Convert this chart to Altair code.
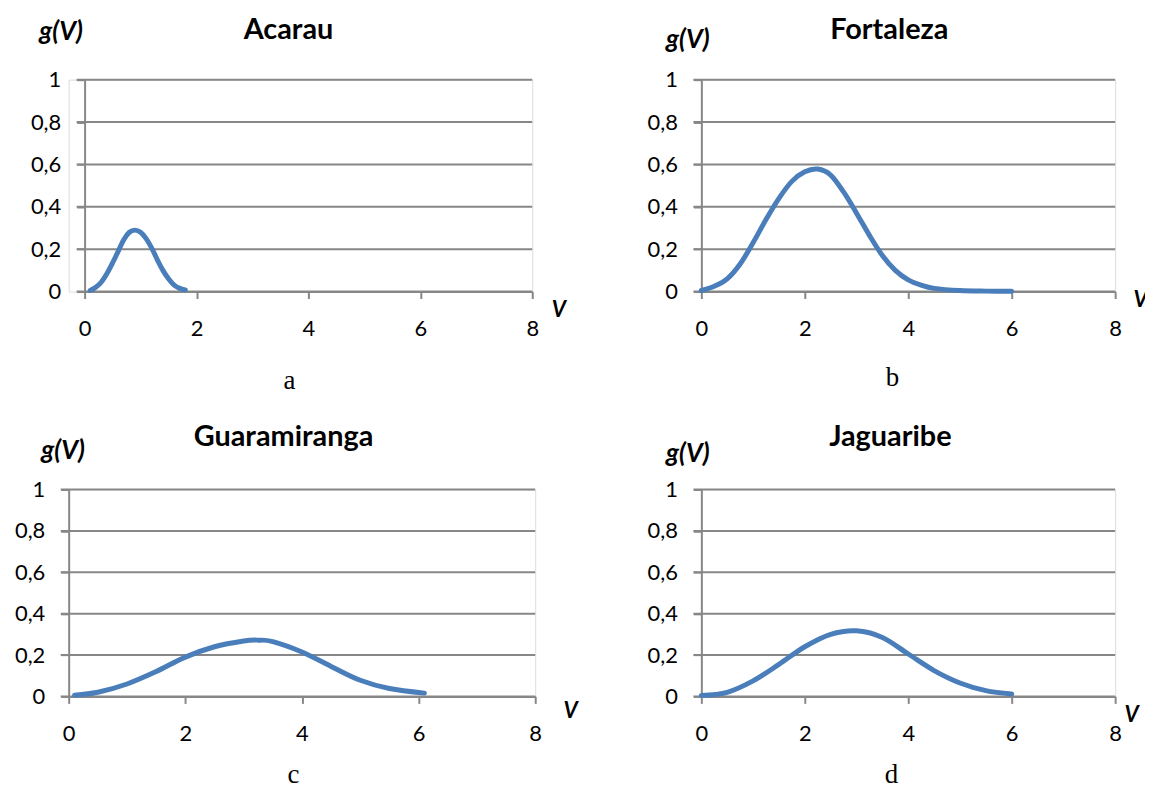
import altair as alt
import pandas as pd

# ---- data ----
acarau_v = [0.1, 0.2, 0.3, 0.4, 0.5, 0.6, 0.7, 0.8, 0.9, 1.0, 1.1, 1.2, 1.3, 1.4, 1.5, 1.6, 1.7, 1.8]
acarau_g = [0.005, 0.02, 0.045, 0.085, 0.135, 0.19, 0.245, 0.28, 0.29, 0.28, 0.25, 0.205, 0.15, 0.1, 0.06, 0.03, 0.015, 0.008]

fortaleza_v = [0, 0.25, 0.5, 0.75, 1.0, 1.25, 1.5, 1.75, 2.0, 2.25, 2.5, 2.75, 3.0, 3.25, 3.5, 3.75, 4.0, 4.25, 4.5, 5.0, 5.5, 6.0]
fortaleza_g = [0.005, 0.025, 0.06, 0.13, 0.23, 0.34, 0.44, 0.52, 0.565, 0.578, 0.55, 0.47, 0.37, 0.265, 0.17, 0.1, 0.055, 0.03, 0.015, 0.005, 0.002, 0.001]

guara_v = [0.1, 0.5, 1.0, 1.5, 2.0, 2.5, 3.0, 3.25, 3.5, 4.0, 4.5, 5.0, 5.5, 6.1]
guara_g = [0.006, 0.02, 0.06, 0.12, 0.19, 0.24, 0.268, 0.272, 0.265, 0.215, 0.145, 0.078, 0.038, 0.016]

jagua_v = [0, 0.5, 1.0, 1.5, 2.0, 2.5, 3.0, 3.5, 4.0, 4.5, 5.0, 5.5, 6.0]
jagua_g = [0.005, 0.02, 0.075, 0.155, 0.24, 0.3, 0.317, 0.285, 0.205, 0.125, 0.065, 0.028, 0.012]

x_ticks = [0, 2, 4, 6, 8]
y_ticks = [0, 0.2, 0.4, 0.6, 0.8, 1]

GRID = "#878787"
BLUE = "#4a7ebb"
FONT = "Lato"


def panel(v, g, name, letter, w, h, gx, gy, vx, vy, tx, ty, lx, ly, shift=0):
    df = pd.DataFrame({"V": v, "g": g})
    xscale = alt.Scale(domain=[0, 8], nice=False, zero=False, range=[shift, w])
    yscale = alt.Scale(domain=[0, 1], nice=False)
    x = alt.X(
        "V:Q", scale=xscale,
        axis=alt.Axis(
            values=x_ticks, grid=False, title="V", titleX=vx, titleY=vy,
            titleAlign="left", titleBaseline="alphabetic", titleAngle=0,
            titleFont=FONT, titleFontSize=22, titleFontStyle="italic",
            titleFontWeight="bold", titleColor="black",
            domainColor=GRID, domainWidth=2, tickColor=GRID, tickWidth=2,
            tickSize=7, labelFont=FONT, labelFontSize=22, labelColor="black",
            labelPadding=20, labelFlush=False, labelOverlap=False,
        ),
    )
    y = alt.Y(
        "g:Q", scale=yscale,
        axis=alt.Axis(
            values=y_ticks,
            labelExpr="replace(format(datum.value, '.1~f'), '.', ',')",
            title="g(V)", titleX=gx, titleY=gy, titleAngle=0,
            titleAlign="left", titleBaseline="alphabetic",
            titleFont=FONT, titleFontSize=26, titleFontStyle="italic",
            titleFontWeight="bold", titleColor="black",
            grid=False, offset=-shift,
            domainColor=GRID, domainWidth=2, tickColor=GRID, tickWidth=2,
            tickSize=8, labelFont=FONT, labelFontSize=22, labelColor="black",
            labelPadding=16, labelFlush=False, labelOverlap=False,
        ),
    )
    grid = alt.Chart(pd.DataFrame({"g": y_ticks})).mark_rule(
        color=GRID, strokeWidth=2
    ).encode(y=alt.Y("g:Q", scale=yscale), x=alt.value(shift - 8), x2=alt.value(w))
    line = alt.Chart(df).mark_line(
        color=BLUE, strokeWidth=5, interpolate="cardinal",
        strokeCap="round", strokeJoin="round",
    ).encode(x=x, y=y)
    head = alt.Chart(pd.DataFrame({"t": [name]})).mark_text(
        font=FONT, fontSize=29, fontWeight="bold", align="center",
        baseline="alphabetic", color="black",
    ).encode(text="t:N", x=alt.value(tx), y=alt.value(ty))
    txt = alt.Chart(pd.DataFrame({"t": [letter]})).mark_text(
        font="Liberation Serif", fontSize=27, align="center",
        baseline="alphabetic", color="black",
    ).encode(text="t:N", x=alt.value(lx), y=alt.value(ly))
    return alt.layer(grid, line, head, txt).properties(width=w, height=h)


# panel a plot starts 16 px to the right of panel c's plot
a = panel(acarau_v, acarau_g, "Acarau", "a", 466, 213, -46, -40, 485, 25, 221, -41, 222, 311, shift=16)
b = panel(fortaleza_v, fortaleza_g, "Fortaleza", "b", 416, 213, -36, -32, 434, 15, 189, -41, 192, 308)
c = panel(guara_v, guara_g, "Guaramiranga", "c", 469, 208, -28, -31, 497, 21, 216, -44, 226, 295)
d = panel(jagua_v, jagua_g, "Jaguaribe", "d", 416, 208, -36, -28, 425, 25, 190, -44, 191, 295)

chart = alt.concat(
    a, b, c, d, columns=2, spacing={"row": 199, "column": 167}, bounds="flush"
).properties(
    padding={"left": 5, "top": 5, "right": -3, "bottom": -4}
).configure_view(stroke="transparent").configure(background="white")

chart.save("out.html", embed_options={"renderer": "svg", "actions": False})
